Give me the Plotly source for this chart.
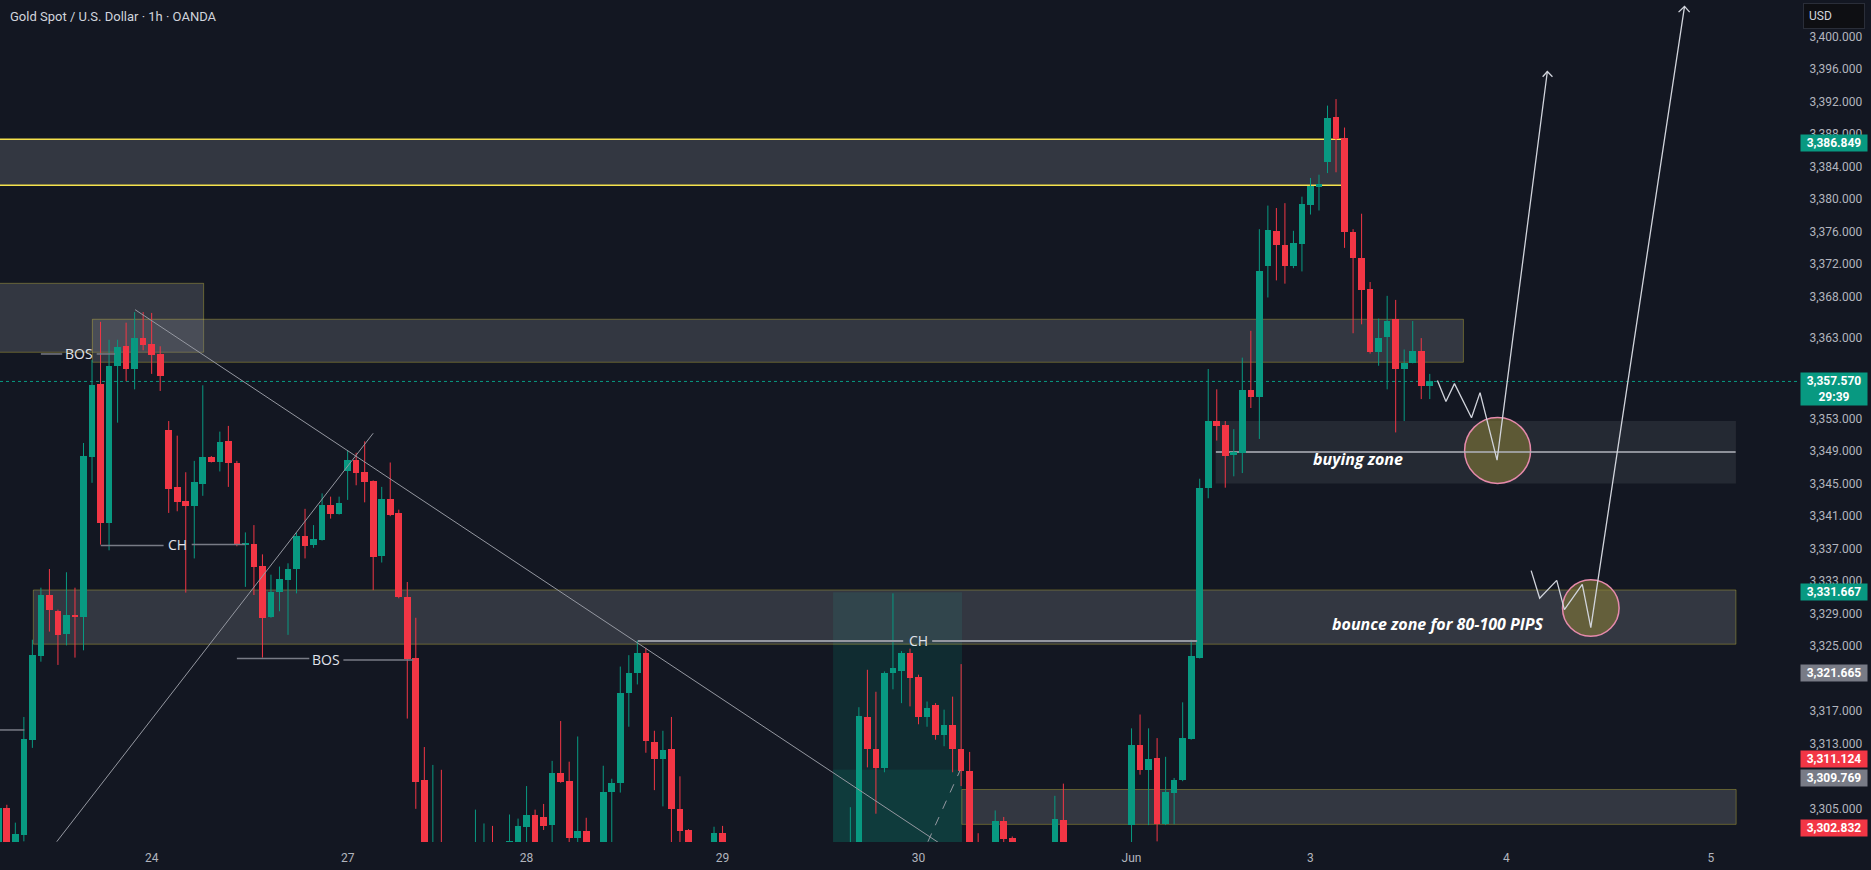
import plotly.graph_objects as go

BG = "#131722"
UP = "#089981"
DOWN = "#f23645"
AXIS_TXT = "#b2b5be"
LABEL_TXT = "#d1d4dc"
GRAY_TAG = "#787b86"

# ---------------- data (1h bars, index -1 .. 167) ----------------
bar_index = list(range(-1, 168))

open_ = [
    3298.0, 3305.1, 3300.2, 3301.8, 3313.5, 3323.8, 3331.3, 3329.3, 3326.5, 3328.8,
    3328.6, 3348.3, 3357.2, 3340.2, 3359.5, 3361.9, 3359.1, 3362.9, 3362.2, 3360.9,
    3351.6, 3344.6, 3342.9, 3342.2, 3345.0, 3348.3, 3347.7, 3350.2, 3347.6, 3337.5,
    3337.6, 3334.9, 3328.6, 3331.7, 3333.2, 3334.5, 3338.6, 3337.4, 3338.1, 3342.4,
    3341.3, 3346.5, 3347.9, 3346.4, 3345.3, 3336.1, 3343.1, 3341.4, 3331.0, 3323.6,
    3308.5, 3296.5, 3299.0, 3296.0, 3294.5, 3297.0, 3295.0, 3298.5, 3300.2, 3297.5,
    3299.5, 3300.5, 3302.8, 3304.3, 3304.0, 3303.0, 3309.4, 3308.4, 3301.4, 3302.3,
    3299.5, 3298.0, 3307.1, 3308.2, 3319.3, 3321.7, 3324.2, 3313.2, 3311.1, 3312.4,
    3305.0, 3302.4, 3298.0, 3295.5, 3298.8, 3302.0, 3297.5, 3293.5, 3295.0, 3291.8,
    3288.5, 3291.0, 3286.0, 3283.5, 3286.5, 3289.0, 3287.0, 3290.5, 3293.5, 3291.5,
    3297.0, 3299.5, 3316.3, 3312.4, 3310.0, 3321.7, 3322.0, 3324.2, 3321.2, 3316.3,
    3317.8, 3314.1, 3315.3, 3312.3, 3309.6, 3298.0, 3296.5, 3299.0, 3303.5, 3301.4,
    3297.5, 3295.0, 3297.0, 3295.5, 3298.5, 3303.6, 3298.5, 3295.0, 3296.5, 3294.0,
    3296.0, 3298.5, 3297.0, 3303.0, 3312.9, 3309.8, 3311.2, 3303.1, 3307.0, 3308.5,
    3313.6, 3323.6, 3344.5, 3352.7, 3352.2, 3348.5, 3348.8, 3356.5, 3355.6, 3371.8,
    3376.1, 3374.4, 3371.8, 3374.5, 3379.3, 3381.5, 3384.6, 3390.1, 3387.5, 3375.9,
    3372.7, 3368.9, 3361.2, 3363.0, 3365.2, 3359.1, 3359.8, 3361.3, 3357.0,
]
high = [
    3305.5, 3305.5, 3303.3, 3316.3, 3325.8, 3332.2, 3334.5, 3329.5, 3334.1, 3332.2,
    3350.0, 3360.2, 3364.9, 3362.7, 3362.7, 3364.8, 3366.1, 3366.1, 3366.0, 3361.9,
    3352.7, 3350.9, 3346.4, 3347.8, 3357.1, 3348.4, 3351.4, 3352.1, 3347.8, 3339.0,
    3339.9, 3336.3, 3333.8, 3334.8, 3335.2, 3339.0, 3341.9, 3339.9, 3343.8, 3343.4,
    3343.4, 3349.1, 3348.8, 3350.2, 3345.4, 3344.6, 3347.6, 3341.8, 3332.9, 3328.5,
    3312.6, 3310.4, 3309.8, 3299.5, 3298.8, 3300.2, 3304.9, 3303.2, 3302.9, 3300.3,
    3304.3, 3303.8, 3307.8, 3304.9, 3305.6, 3310.9, 3315.8, 3310.8, 3313.9, 3303.9,
    3300.4, 3310.3, 3308.7, 3322.5, 3323.9, 3325.7, 3324.8, 3314.6, 3314.6, 3316.3,
    3309.0, 3302.5, 3300.0, 3299.5, 3302.8, 3302.9, 3299.0, 3296.0, 3297.5, 3294.0,
    3292.5, 3293.5, 3289.0, 3287.5, 3290.5, 3292.0, 3291.5, 3295.0, 3297.0, 3298.5,
    3305.2, 3317.5, 3322.1, 3319.4, 3321.9, 3331.5, 3324.4, 3324.7, 3321.5, 3318.2,
    3318.0, 3317.2, 3318.8, 3322.8, 3312.0, 3302.0, 3300.3, 3304.8, 3304.0, 3301.6,
    3299.5, 3298.0, 3300.0, 3299.0, 3306.6, 3308.1, 3300.2, 3298.0, 3299.5, 3297.0,
    3299.8, 3300.4, 3300.3, 3314.9, 3316.6, 3314.9, 3313.7, 3311.4, 3308.8, 3318.1,
    3325.8, 3345.6, 3359.1, 3356.6, 3352.7, 3351.7, 3360.5, 3363.8, 3376.3, 3379.2,
    3378.9, 3379.5, 3376.1, 3380.3, 3382.6, 3383.0, 3391.5, 3392.3, 3388.8, 3376.3,
    3378.2, 3369.8, 3365.3, 3368.1, 3367.6, 3361.5, 3365.0, 3362.9, 3358.5,
]
low = [
    3297.0, 3298.0, 3299.5, 3301.0, 3312.5, 3323.1, 3326.8, 3322.7, 3325.1, 3323.6,
    3324.5, 3345.1, 3337.5, 3336.8, 3352.5, 3357.6, 3356.6, 3361.4, 3358.5, 3356.4,
    3341.4, 3341.6, 3331.6, 3335.8, 3343.5, 3347.6, 3346.5, 3344.6, 3337.3, 3332.3,
    3331.3, 3323.6, 3328.5, 3329.3, 3326.4, 3331.5, 3335.8, 3337.1, 3338.0, 3340.7,
    3341.2, 3343.0, 3344.8, 3342.7, 3331.9, 3335.3, 3341.0, 3330.9, 3316.1, 3305.0,
    3296.0, 3295.0, 3294.0, 3292.0, 3291.5, 3293.0, 3294.0, 3295.5, 3296.0, 3295.0,
    3297.5, 3299.0, 3300.0, 3299.0, 3302.4, 3300.5, 3308.2, 3300.5, 3300.8, 3298.5,
    3296.0, 3297.0, 3300.0, 3307.0, 3315.1, 3320.3, 3311.9, 3307.3, 3305.3, 3299.5,
    3299.0, 3296.5, 3294.0, 3293.0, 3297.0, 3296.0, 3292.0, 3289.5, 3291.0, 3287.0,
    3286.0, 3284.5, 3281.0, 3280.0, 3284.0, 3285.5, 3283.0, 3288.5, 3290.0, 3290.5,
    3296.0, 3298.0, 3310.1, 3304.4, 3309.5, 3319.7, 3318.0, 3317.6, 3315.4, 3315.1,
    3313.5, 3312.7, 3309.5, 3307.8, 3296.0, 3294.5, 3294.0, 3298.0, 3300.5, 3296.0,
    3293.5, 3292.5, 3294.0, 3293.0, 3297.5, 3297.0, 3294.0, 3291.5, 3293.0, 3290.5,
    3294.5, 3295.0, 3295.5, 3299.0, 3309.2, 3303.0, 3301.0, 3303.0, 3303.1, 3308.4,
    3313.5, 3323.5, 3343.2, 3350.3, 3344.5, 3345.9, 3346.3, 3354.3, 3350.5, 3367.9,
    3370.0, 3369.6, 3371.5, 3371.1, 3378.1, 3378.6, 3383.2, 3383.3, 3374.0, 3363.5,
    3364.6, 3361.0, 3359.5, 3356.6, 3351.3, 3352.7, 3359.8, 3355.4, 3355.4,
]
close = [
    3305.1, 3299.0, 3301.9, 3313.6, 3323.9, 3331.3, 3329.4, 3326.4, 3328.8, 3328.6,
    3348.4, 3357.1, 3340.2, 3359.5, 3361.8, 3359.1, 3362.9, 3362.1, 3360.8, 3358.2,
    3344.3, 3342.8, 3342.3, 3345.2, 3348.3, 3347.7, 3350.1, 3347.5, 3337.5, 3337.6,
    3334.8, 3328.5, 3331.7, 3333.3, 3334.5, 3338.5, 3337.3, 3338.2, 3342.4, 3341.3,
    3342.6, 3347.9, 3346.3, 3345.2, 3336.0, 3343.1, 3341.1, 3331.0, 3323.4, 3308.3,
    3298.5, 3299.0, 3296.0, 3294.5, 3297.0, 3295.0, 3298.5, 3300.2, 3297.5, 3299.5,
    3301.1, 3302.9, 3304.3, 3300.2, 3302.9, 3309.4, 3308.3, 3301.4, 3302.3, 3299.5,
    3298.0, 3307.1, 3308.2, 3319.3, 3321.7, 3324.2, 3313.3, 3311.1, 3312.2, 3305.0,
    3302.3, 3298.0, 3295.5, 3298.8, 3302.0, 3297.5, 3293.5, 3295.0, 3291.8, 3288.5,
    3291.0, 3286.0, 3283.5, 3286.5, 3289.0, 3287.0, 3290.5, 3293.5, 3291.5, 3297.0,
    3299.5, 3316.4, 3312.3, 3310.0, 3321.7, 3322.3, 3324.2, 3321.1, 3316.3, 3317.4,
    3314.1, 3315.3, 3312.3, 3309.6, 3298.0, 3296.5, 3299.0, 3303.5, 3301.3, 3297.5,
    3295.0, 3297.0, 3295.5, 3298.5, 3303.8, 3298.5, 3295.0, 3296.5, 3294.0, 3296.0,
    3298.5, 3297.0, 3299.8, 3312.9, 3309.8, 3311.1, 3303.1, 3307.1, 3308.6, 3313.7,
    3323.8, 3344.5, 3352.7, 3352.1, 3348.4, 3348.9, 3356.5, 3355.6, 3371.2, 3376.2,
    3374.3, 3371.8, 3374.6, 3379.4, 3381.6, 3381.9, 3390.0, 3387.4, 3375.9, 3372.8,
    3368.8, 3361.2, 3362.9, 3365.0, 3359.1, 3359.8, 3361.3, 3357.0, 3357.57,
]

x_tick_pos = [17, 40, 61, 84, 107, 132, 153, 176, 200]
x_tick_text = ["24", "27", "28", "29", "30", "Jun", "3", "4", "5"]
y_tick_vals = [3400, 3396, 3392, 3388, 3384, 3380, 3376, 3372, 3368, 3363, 3353,
               3349, 3345, 3341, 3337, 3333, 3329, 3325, 3317, 3313, 3305]

last_price = 3357.57
price_tags = [
    (3386.849, "3,386.849", UP, 0),
    (3357.570, "3,357.570<br>29:39", UP, 0),
    (3331.667, "3,331.667", UP, 0),
    (3321.665, "3,321.665", GRAY_TAG, 0),
    (3311.124, "3,311.124", DOWN, 0),
    (3309.769, "3,309.769", GRAY_TAG, -8),
    (3302.832, "3,302.832", DOWN, -2),
]

X_RANGE = [-0.8, 210.1]
Y_RANGE = [3300.92, 3404.49]

# zones: (x0, x1, y0, y1, style)
zones = [
    (-5, 23.1, 3361.16, 3369.64, "olive"),
    (-5, 156.6, 3381.70, 3387.36, "plain"),
    (10.04, 170.95, 3359.93, 3365.22, "olive"),
    (3.11, 202.93, 3325.25, 3331.92, "olive"),
    (141.87, 202.93, 3345.02, 3352.71, "dark"),
    (112.08, 202.96, 3303.09, 3307.38, "olive"),
]
yellow_lines = [(-5, 156.6, 3387.36), (-5, 156.6, 3381.70)]
teal_box = (96.97, 112.11, 3331.64, 3309.84, 3290.0)

# structure lines (x0, x1, price)
struct_lines = [
    (4.0, 6.5, 3360.95), (10.55, 12.7, 3360.95),       # BOS upper-left
    (11.02, 18.4, 3337.40), (21.7, 27.96, 3337.50),    # CH left
    (27.0, 35.5, 3323.50), (39.5, 47.7, 3323.30),      # BOS mid
    (-0.8, 2.06, 3314.70),                             # stub
]
ch_lines = [(74.06, 105.2, 3325.65), (108.6, 139.7, 3325.65)]
struct_labels = [(8.44, 3361.0, "BOS"), (19.98, 3337.5, "CH"),
                 (37.5, 3323.4, "BOS"), (106.95, 3325.65, "CH")]

trend_lines = [((15.05, 3366.4), (111.0, 3299.7)),
               ((5.86, 3300.96), (43.0, 3351.2))]
dashed_line = ((108.1, 3300.96), (111.9, 3309.78))

path_a_x = [167.9, 168.9, 169.9, 171.9, 172.9, 174.9, 180.8]
path_a_y = [3357.7, 3355.1, 3357.3, 3353.1, 3356.2, 3347.9, 3395.7]
head_a = ([180.25, 180.8, 181.4], [3395.05, 3395.7, 3395.05])
path_b_x = [178.9, 179.9, 181.9, 182.8, 184.9, 185.9, 196.9]
path_b_y = [3334.3, 3330.9, 3333.1, 3329.5, 3332.6, 3327.3, 3403.7]
head_b = ([196.2, 196.9, 197.5], [3403.0, 3403.7, 3403.0])

circles = [(174.96, 3349.08, 3.87, 4.06), (185.9, 3329.7, 3.32, 3.48)]

buying_line = (141.9, 202.9, 3348.89)
zone_texts = [(158.6, 3348.03, "buying zone"),
              (167.96, 3327.7, "bounce zone for 80-100 PIPS")]

# ---------------- figure ----------------
fig = go.Figure()

up_wx, up_wy, dn_wx, dn_wy = [], [], [], []
body_base, body_h, body_col = [], [], []
for i, o, h, l, c in zip(bar_index, open_, high, low, close):
    is_up = c >= o
    (up_wx if is_up else dn_wx).extend([i, i, None])
    (up_wy if is_up else dn_wy).extend([l, h, None])
    lo_, hi_ = min(o, c), max(o, c)
    body_base.append(lo_)
    body_h.append(max(hi_ - lo_, 0.14))
    body_col.append(UP if is_up else DOWN)

fig.add_trace(go.Scatter(x=up_wx, y=up_wy, mode="lines", line=dict(color=UP, width=1),
                         hoverinfo="skip"))
fig.add_trace(go.Scatter(x=dn_wx, y=dn_wy, mode="lines", line=dict(color=DOWN, width=1),
                         hoverinfo="skip"))
fig.add_trace(go.Bar(x=bar_index, y=body_h, base=body_base, width=0.78,
                     marker=dict(color=body_col, line=dict(width=0)), hoverinfo="skip"))

for px, py in [(path_a_x, path_a_y), (path_b_x, path_b_y), head_a, head_b]:
    fig.add_trace(go.Scatter(x=px, y=py, mode="lines",
                             line=dict(color="#d1d4dc", width=1.3), hoverinfo="skip"))

shapes = []
FILL = "rgba(125,128,138,0.30)"
FILL_DARK = "rgba(125,128,138,0.17)"
OLIVE = "rgba(255,235,59,0.30)"

tx0, tx1, ty_top, ty_mid, ty_bot = teal_box
shapes.append(dict(type="rect", xref="x", yref="y", x0=tx0, x1=tx1, y0=ty_mid, y1=ty_top,
                   fillcolor="rgba(8,153,129,0.16)", line=dict(width=0), layer="below"))
shapes.append(dict(type="rect", xref="x", yref="y", x0=tx0, x1=tx1, y0=ty_bot, y1=ty_mid,
                   fillcolor="rgba(8,153,129,0.28)", line=dict(width=0), layer="below"))

for x0, x1, y0, y1, style in zones:
    if style == "olive":
        shapes.append(dict(type="rect", xref="x", yref="y", x0=x0, x1=x1, y0=y0, y1=y1,
                           fillcolor=FILL, line=dict(color=OLIVE, width=1), layer="below"))
    elif style == "dark":
        shapes.append(dict(type="rect", xref="x", yref="y", x0=x0, x1=x1, y0=y0, y1=y1,
                           fillcolor=FILL_DARK, line=dict(width=0), layer="below"))
    else:
        shapes.append(dict(type="rect", xref="x", yref="y", x0=x0, x1=x1, y0=y0, y1=y1,
                           fillcolor=FILL, line=dict(width=0), layer="below"))

for x0, x1, yy in yellow_lines:
    shapes.append(dict(type="line", xref="x", yref="y", x0=x0, x1=x1, y0=yy, y1=yy,
                       line=dict(color="#f5e24d", width=1.5), layer="below"))

for cx, cy, rx, ry in circles:
    shapes.append(dict(type="circle", xref="x", yref="y", x0=cx - rx, x1=cx + rx,
                       y0=cy - ry, y1=cy + ry, fillcolor="rgba(140,130,55,0.55)",
                       line=dict(color="#e68aab", width=1.5), layer="below"))

shapes.append(dict(type="line", xref="x", yref="y", x0=buying_line[0], x1=buying_line[1],
                   y0=buying_line[2], y1=buying_line[2],
                   line=dict(color="#b2b5be", width=1.5), layer="below"))

shapes.append(dict(type="line", xref="paper", yref="y", x0=0, x1=1, y0=last_price, y1=last_price,
                   line=dict(color=UP, width=1, dash="dot"), layer="below"))

for x0, x1, yy in struct_lines:
    shapes.append(dict(type="line", xref="x", yref="y", x0=x0, x1=x1, y0=yy, y1=yy,
                       line=dict(color="#787b86", width=1.5), layer="above"))
for x0, x1, yy in ch_lines:
    shapes.append(dict(type="line", xref="x", yref="y", x0=x0, x1=x1, y0=yy, y1=yy,
                       line=dict(color="#9598a1", width=2), layer="above"))

for (x0, y0), (x1, y1) in trend_lines:
    shapes.append(dict(type="line", xref="x", yref="y", x0=x0, x1=x1, y0=y0, y1=y1,
                       line=dict(color="#9598a1", width=1), layer="above"))
(dx0, dy0), (dx1, dy1) = dashed_line
shapes.append(dict(type="line", xref="x", yref="y", x0=dx0, x1=dx1, y0=dy0, y1=dy1,
                   line=dict(color="#9598a1", width=1, dash="dash"), layer="above"))

annotations = []
for xx, yy, t in struct_labels:
    annotations.append(dict(x=xx, y=yy, xref="x", yref="y", text=t, showarrow=False,
                            font=dict(family="Open Sans", size=14, color="#e0e3eb")))
for xx, yy, t in zone_texts:
    annotations.append(dict(x=xx, y=yy, xref="x", yref="y", text="<b><i>%s</i></b>" % t,
                            showarrow=False,
                            font=dict(family="Open Sans", size=16, color="#ffffff")))

for price, txt, col, shift in price_tags:
    two = "<br>" in txt
    annotations.append(dict(x=1, y=price, xref="paper", yref="y", text="<b>%s</b>" % txt,
                            showarrow=False, xanchor="left",
                            yanchor="top" if two else "middle",
                            xshift=3, yshift=(9.5 if two else 0) + shift,
                            width=64, align="center", bgcolor=col, borderpad=1,
                            font=dict(family="Roboto", size=12, color="#ffffff")))

annotations.append(dict(x=1, y=1, xref="paper", yref="paper", text="USD", showarrow=False,
                        xanchor="left", yanchor="top", xshift=6, yshift=-3, width=50,
                        align="left", bgcolor="#0e0f13", bordercolor="#2a2e39",
                        borderwidth=1, borderpad=5,
                        font=dict(family="Roboto", size=12, color=LABEL_TXT)))
annotations.append(dict(x=0, y=1, xref="paper", yref="paper",
                        text="Gold Spot / U.S. Dollar · 1h · OANDA", showarrow=False,
                        xanchor="left", yanchor="middle", xshift=8, yshift=-16,
                        font=dict(family="Roboto", size=13, color=LABEL_TXT)))

fig.update_layout(
    width=1871, height=870,
    margin=dict(l=0, r=74, t=0, b=28),
    paper_bgcolor=BG, plot_bgcolor=BG,
    showlegend=False, bargap=0, barmode="overlay",
    shapes=shapes, annotations=annotations,
    xaxis=dict(range=X_RANGE, showgrid=False, zeroline=False, showline=False,
               tickmode="array", tickvals=x_tick_pos, ticktext=x_tick_text,
               ticks="outside", ticklen=5, tickcolor="rgba(0,0,0,0)",
               tickfont=dict(family="Roboto", size=12, color=AXIS_TXT), fixedrange=True),
    yaxis=dict(range=Y_RANGE, side="right", showgrid=False, zeroline=False, showline=False,
               tickmode="array", tickvals=y_tick_vals,
               ticktext=["{:,.3f}".format(v) for v in y_tick_vals],
               ticks="outside", ticklen=9, tickcolor="rgba(0,0,0,0)",
               tickfont=dict(family="Roboto", size=12, color=AXIS_TXT), fixedrange=True),
)

fig.write_html("out.html")
